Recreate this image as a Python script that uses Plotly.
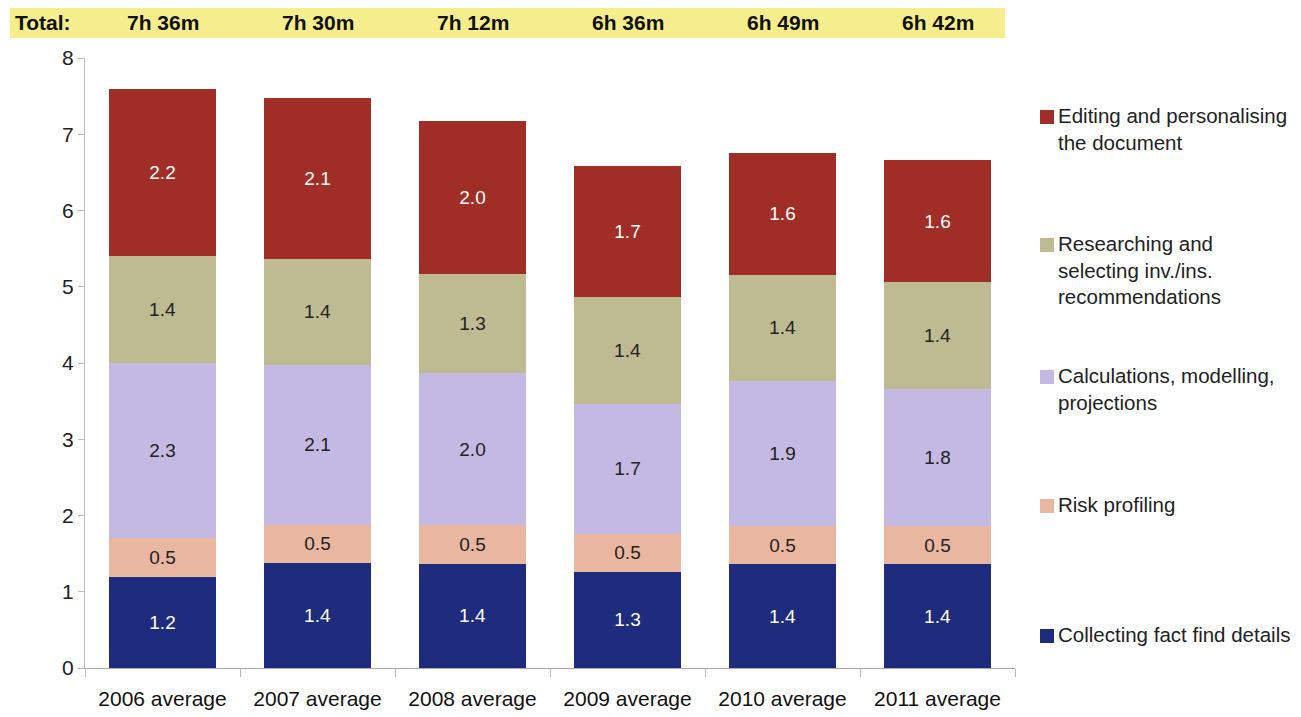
import plotly.graph_objects as go

categories = ["2006 average", "2007 average", "2008 average", "2009 average", "2010 average", "2011 average"]
totals_text = ["7h 36m", "7h 30m", "7h 12m", "6h 36m", "6h 49m", "6h 42m"]

collecting = [1.2, 1.38, 1.37, 1.26, 1.36, 1.36]
risk = [0.5, 0.5, 0.5, 0.5, 0.5, 0.5]
calculations = [2.3, 2.1, 2.0, 1.7, 1.9, 1.8]
researching = [1.4, 1.38, 1.3, 1.4, 1.4, 1.4]
editing = [2.2, 2.12, 2.0, 1.72, 1.6, 1.6]

series_names = [
    "Collecting fact find details",
    "Risk profiling",
    "Calculations, modelling,<br>projections",
    "Researching and<br>selecting inv./ins.<br>recommendations",
    "Editing and personalising<br>the document",
]
series_values = [collecting, risk, calculations, researching, editing]
series_colors = ["#1F2C7E", "#E9B7A0", "#C4B9E3", "#BEBA91", "#A12D27"]
text_colors = ["#FFFFFF", "#222222", "#222222", "#222222", "#FFFFFF"]

W, H = 1301, 717
L, R, T, B = 85, 1015, 58, 668  # plot area in px

def px_x(px):
    return (px - L) / (R - L)

def px_y(py):
    return (B - py) / (B - T)

FONT = "Liberation Sans, Arial, sans-serif"
NARROW = "Liberation Sans Narrow, Arial Narrow, Liberation Sans, Arial, sans-serif"

fig = go.Figure()
for name, vals, col, tcol in zip(series_names, series_values, series_colors, text_colors):
    fig.add_trace(go.Bar(
        x=categories, y=vals, name=name,
        marker=dict(color=col, line=dict(width=0)),
        texttemplate="%{y:.1f}", textposition="inside", insidetextanchor="middle",
        textfont=dict(family=FONT, size=19, color=tcol),
        constraintext="none", showlegend=False,
    ))

shapes = []
annotations = []

# yellow totals banner
shapes.append(dict(type="rect", xref="paper", yref="paper",
                   x0=px_x(10), x1=px_x(1005), y0=px_y(38), y1=px_y(8),
                   fillcolor="#F6EE8C", line=dict(width=0), layer="below"))
annotations.append(dict(xref="paper", yref="paper", x=px_x(13), y=px_y(22),
                        xanchor="left", yanchor="middle", text="<b>Total:</b>",
                        showarrow=False, font=dict(family=NARROW, size=21, color="#111111")))
for c, t in zip(categories, totals_text):
    annotations.append(dict(xref="x", yref="paper", x=c, y=px_y(22),
                            xanchor="center", yanchor="middle", text="<b>" + t + "</b>",
                            showarrow=False, font=dict(family=NARROW, size=21, color="#111111")))

# manual legend (top to bottom)
legend_rows = [(4, 117), (3, 245), (2, 377), (1, 506), (0, 636)]
for idx, yc in legend_rows:
    shapes.append(dict(type="rect", xref="paper", yref="paper",
                       x0=px_x(1040), x1=px_x(1054), y0=px_y(yc + 7), y1=px_y(yc - 7),
                       fillcolor=series_colors[idx], line=dict(width=0)))
    annotations.append(dict(xref="paper", yref="paper", x=px_x(1056), y=px_y(yc - 15),
                            xanchor="left", yanchor="top", align="left",
                            text=series_names[idx], showarrow=False,
                            font=dict(family=FONT, size=20.5, color="#222222")))

fig.update_layout(
    width=W, height=H,
    margin=dict(l=L, r=W - R, t=T, b=H - B, pad=0),
    barmode="stack", bargap=0.315,
    plot_bgcolor="white", paper_bgcolor="white",
    shapes=shapes, annotations=annotations,
    uniformtext=dict(mode=False),
    xaxis=dict(
        type="category", showgrid=False, showline=True, linecolor="#AAAAAA", linewidth=1,
        ticks="outside", tickson="boundaries", ticklen=8, tickcolor="#BBBBBB",
        ticklabelstandoff=12, automargin=False,
        tickfont=dict(family=FONT, size=21, color="#111111"),
    ),
    yaxis=dict(
        range=[0, 8], dtick=1, showgrid=False, zeroline=False,
        showline=True, linecolor="#BBBBBB", linewidth=1,
        ticks="outside", ticklen=6, tickcolor="#BBBBBB", automargin=False,
        tickfont=dict(family=FONT, size=21, color="#222222"),
    ),
)

fig.write_html("out.html")
